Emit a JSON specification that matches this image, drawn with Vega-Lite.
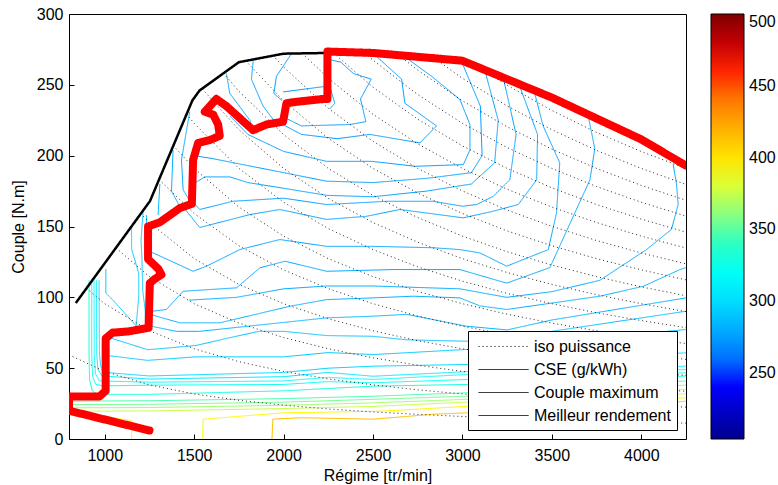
{
"$schema":"https://vega.github.io/schema/vega-lite/v6.json",
"width":617,"height":425,
"autosize":{"type":"none"},
"padding":{"left":69,"top":14,"right":92,"bottom":46},
"background":"white",
"config":{
 "view":{"stroke":"black","strokeWidth":1},
 "font":"Liberation Sans",
 "axis":{"grid":false,"domain":false,"tickColor":"black","tickSize":-5,"labelColor":"black","labelFontSize":16,"titleFontSize":16,"titleFontWeight":"normal","titleColor":"black","labelFont":"Liberation Sans","titleFont":"Liberation Sans"},
 "legend":{"labelFont":"Liberation Sans","labelColor":"black"}
},
"datasets":{
"cse":[
{"id":"k1","v":414,"x":1935,"y":0},{"id":"k1","v":414,"x":1940,"y":14},{"id":"k1","v":414,"x":2100,"y":15},{"id":"k1","v":414,"x":2500,"y":14},{"id":"k1","v":414,"x":2840,"y":17.5},{"id":"k1","v":414,"x":3030,"y":18.5},{"id":"k1","v":414,"x":3500,"y":21},{"id":"k1","v":414,"x":4000,"y":24},{"id":"k1","v":414,"x":4250,"y":26.7},
{"id":"k2","v":391,"x":1548,"y":0},{"id":"k2","v":391,"x":1550,"y":14},{"id":"k2","v":391,"x":2000,"y":18.5},{"id":"k2","v":391,"x":2540,"y":19.6},{"id":"k2","v":391,"x":3020,"y":23},{"id":"k2","v":391,"x":3500,"y":25},{"id":"k2","v":391,"x":4000,"y":27.5},{"id":"k2","v":391,"x":4250,"y":29.1},
{"id":"k3","v":391,"x":1150,"y":0},{"id":"k3","v":391,"x":1150,"y":13},{"id":"k3","v":391,"x":1000,"y":16},{"id":"k3","v":391,"x":800,"y":18},
{"id":"k4","v":376,"x":800,"y":19.6},{"id":"k4","v":376,"x":1250,"y":19.8},{"id":"k4","v":376,"x":2000,"y":21.5},{"id":"k4","v":376,"x":2500,"y":23},{"id":"k4","v":376,"x":3020,"y":26},{"id":"k4","v":376,"x":3500,"y":28.5},{"id":"k4","v":376,"x":4250,"y":32},
{"id":"k5","v":366,"x":800,"y":22},{"id":"k5","v":366,"x":1250,"y":22.2},{"id":"k5","v":366,"x":2000,"y":23.8},{"id":"k5","v":366,"x":2500,"y":25.5},{"id":"k5","v":366,"x":3020,"y":28},{"id":"k5","v":366,"x":3500,"y":31},{"id":"k5","v":366,"x":4250,"y":35},
{"id":"k6","v":356,"x":800,"y":24.3},{"id":"k6","v":356,"x":1250,"y":24.5},{"id":"k6","v":356,"x":2000,"y":26},{"id":"k6","v":356,"x":2500,"y":28},{"id":"k6","v":356,"x":3020,"y":30.2},{"id":"k6","v":356,"x":3500,"y":33.5},{"id":"k6","v":356,"x":4250,"y":38},
{"id":"k7","v":346,"x":800,"y":26.7},{"id":"k7","v":346,"x":1250,"y":27},{"id":"k7","v":346,"x":2000,"y":28.5},{"id":"k7","v":346,"x":2500,"y":30.2},{"id":"k7","v":346,"x":3020,"y":32.6},{"id":"k7","v":346,"x":3500,"y":36.5},{"id":"k7","v":346,"x":4250,"y":41},
{"id":"k8","v":332,"x":912,"y":112},{"id":"k8","v":332,"x":912,"y":60},{"id":"k8","v":332,"x":915,"y":42},{"id":"k8","v":332,"x":930,"y":34},{"id":"k8","v":332,"x":960,"y":31.5},{"id":"k8","v":332,"x":1250,"y":31.5},{"id":"k8","v":332,"x":2000,"y":34},{"id":"k8","v":332,"x":2500,"y":37.3},{"id":"k8","v":332,"x":3020,"y":38.5},{"id":"k8","v":332,"x":3500,"y":41},{"id":"k8","v":332,"x":4250,"y":44.5},
{"id":"k9","v":322,"x":927,"y":112},{"id":"k9","v":322,"x":927,"y":60},{"id":"k9","v":322,"x":932,"y":44},{"id":"k9","v":322,"x":950,"y":38.5},{"id":"k9","v":322,"x":990,"y":37.5},{"id":"k9","v":322,"x":1250,"y":38},{"id":"k9","v":322,"x":2000,"y":38.5},{"id":"k9","v":322,"x":2250,"y":40.5},{"id":"k9","v":322,"x":2500,"y":39.7},{"id":"k9","v":322,"x":3020,"y":42},{"id":"k9","v":322,"x":3500,"y":44},{"id":"k9","v":322,"x":4250,"y":46.7},
{"id":"k10","v":313,"x":940,"y":112},{"id":"k10","v":313,"x":941,"y":60},{"id":"k10","v":313,"x":948,"y":46},{"id":"k10","v":313,"x":970,"y":41},{"id":"k10","v":313,"x":1250,"y":40.1},{"id":"k10","v":313,"x":2000,"y":41},{"id":"k10","v":313,"x":2250,"y":43.5},{"id":"k10","v":313,"x":2500,"y":42},{"id":"k10","v":313,"x":3020,"y":45.5},{"id":"k10","v":313,"x":3500,"y":47},{"id":"k10","v":313,"x":4250,"y":49},
{"id":"k11","v":305,"x":953,"y":112},{"id":"k11","v":305,"x":955,"y":60},{"id":"k11","v":305,"x":962,"y":49},{"id":"k11","v":305,"x":985,"y":44.5},{"id":"k11","v":305,"x":1250,"y":42.3},{"id":"k11","v":305,"x":2000,"y":44},{"id":"k11","v":305,"x":2250,"y":47},{"id":"k11","v":305,"x":2500,"y":44.3},{"id":"k11","v":305,"x":3020,"y":47.5},{"id":"k11","v":305,"x":3500,"y":49.5},{"id":"k11","v":305,"x":4250,"y":51.4},
{"id":"k11b","v":298,"x":968,"y":112},{"id":"k11b","v":298,"x":970,"y":60},{"id":"k11b","v":298,"x":978,"y":51},{"id":"k11b","v":298,"x":1000,"y":47},{"id":"k11b","v":298,"x":1250,"y":44.5},{"id":"k11b","v":298,"x":2000,"y":47},{"id":"k11b","v":298,"x":2250,"y":50},{"id":"k11b","v":298,"x":2500,"y":51.4},{"id":"k11b","v":298,"x":3020,"y":52.6},{"id":"k11b","v":298,"x":3500,"y":56},{"id":"k11b","v":298,"x":4250,"y":60.8},
{"id":"k12","v":292,"x":1010,"y":59},{"id":"k12","v":292,"x":1240,"y":55.5},{"id":"k12","v":292,"x":1510,"y":58},{"id":"k12","v":292,"x":2000,"y":58},{"id":"k12","v":292,"x":2250,"y":61},{"id":"k12","v":292,"x":2500,"y":59.6},{"id":"k12","v":292,"x":3020,"y":63.2},{"id":"k12","v":292,"x":3500,"y":68},{"id":"k12","v":292,"x":4250,"y":77.3},
{"id":"k13","v":288,"x":1015,"y":72},{"id":"k13","v":288,"x":1240,"y":63},{"id":"k13","v":288,"x":1510,"y":66},{"id":"k13","v":288,"x":1716,"y":72},{"id":"k13","v":288,"x":1863,"y":76},{"id":"k13","v":288,"x":2000,"y":76},{"id":"k13","v":288,"x":2240,"y":73},{"id":"k13","v":288,"x":2500,"y":72.5},{"id":"k13","v":288,"x":2688,"y":70},{"id":"k13","v":288,"x":3020,"y":69},{"id":"k13","v":288,"x":3500,"y":76},{"id":"k13","v":288,"x":4250,"y":90.2},
{"id":"g","v":284,"x":1245,"y":80},{"id":"g","v":284,"x":1400,"y":76},{"id":"g","v":284,"x":1531,"y":76},{"id":"g","v":284,"x":2240,"y":85.5},{"id":"g","v":284,"x":2500,"y":86.7},{"id":"g","v":284,"x":2688,"y":88},{"id":"g","v":284,"x":3023,"y":79.6},{"id":"g","v":284,"x":3250,"y":77},{"id":"g","v":284,"x":3500,"y":84},{"id":"g","v":284,"x":4250,"y":99.6},
{"id":"f","v":282,"x":1252,"y":88},{"id":"f","v":282,"x":1420,"y":82},{"id":"f","v":282,"x":1643,"y":82},{"id":"f","v":282,"x":2035,"y":93.7},{"id":"f","v":282,"x":2240,"y":98.4},{"id":"f","v":282,"x":2500,"y":99.6},{"id":"f","v":282,"x":2725,"y":100.8},{"id":"f","v":282,"x":2986,"y":99.6},{"id":"f","v":282,"x":3097,"y":94},{"id":"f","v":282,"x":3247,"y":91.4},{"id":"f","v":282,"x":3768,"y":100.8},{"id":"f","v":282,"x":4011,"y":107.8},{"id":"f","v":282,"x":4216,"y":119.6},{"id":"f","v":282,"x":4250,"y":121},
{"id":"e2","v":280,"x":1470,"y":98},{"id":"e2","v":280,"x":1737,"y":100},{"id":"e2","v":280,"x":2000,"y":106},{"id":"e2","v":280,"x":2240,"y":108},{"id":"e2","v":280,"x":2500,"y":108},{"id":"e2","v":280,"x":2986,"y":106},{"id":"e2","v":280,"x":3247,"y":100},{"id":"e2","v":280,"x":3500,"y":104},{"id":"e2","v":280,"x":3768,"y":112},{"id":"e2","v":280,"x":4029,"y":133.7},{"id":"e2","v":280,"x":4169,"y":148},{"id":"e2","v":280,"x":4206,"y":165.5},{"id":"e2","v":280,"x":4197,"y":180},{"id":"e2","v":280,"x":4178,"y":194},
{"id":"e","v":279,"x":1252,"y":90},{"id":"e","v":279,"x":1345,"y":91.4},{"id":"e","v":279,"x":1438,"y":104.3},{"id":"e","v":279,"x":1737,"y":106.7},{"id":"e","v":279,"x":1867,"y":120.8},{"id":"e","v":279,"x":2007,"y":125.5},{"id":"e","v":279,"x":2240,"y":118.4},{"id":"e","v":279,"x":2612,"y":119.6},{"id":"e","v":279,"x":2986,"y":119.6},{"id":"e","v":279,"x":3247,"y":110},{"id":"e","v":279,"x":3489,"y":121},{"id":"e","v":279,"x":3713,"y":183},{"id":"e","v":279,"x":3740,"y":205},{"id":"e","v":279,"x":3700,"y":230},
{"id":"d","v":278,"x":1250,"y":132},{"id":"d","v":278,"x":1270,"y":131.4},{"id":"d","v":278,"x":1494,"y":118.4},{"id":"d","v":278,"x":1569,"y":122},{"id":"d","v":278,"x":1755,"y":133.7},{"id":"d","v":278,"x":1979,"y":140.8},{"id":"d","v":278,"x":2240,"y":136},{"id":"d","v":278,"x":2500,"y":136},{"id":"d","v":278,"x":2836,"y":135},{"id":"d","v":278,"x":2986,"y":133.7},{"id":"d","v":278,"x":3097,"y":131.4},{"id":"d","v":278,"x":3247,"y":122},{"id":"d","v":278,"x":3480,"y":133.7},{"id":"d","v":278,"x":3526,"y":159.6},{"id":"d","v":278,"x":3544,"y":195},{"id":"d","v":278,"x":3451,"y":221},{"id":"d","v":278,"x":3400,"y":246},
{"id":"b","v":277,"x":1450,"y":162},{"id":"b","v":277,"x":1531,"y":149.3},{"id":"b","v":277,"x":1811,"y":158.4},{"id":"b","v":277,"x":1979,"y":162},{"id":"b","v":277,"x":2240,"y":155},{"id":"b","v":277,"x":2464,"y":157.2},{"id":"b","v":277,"x":2650,"y":162},{"id":"b","v":277,"x":3004,"y":156.1},{"id":"b","v":277,"x":3172,"y":160.8},{"id":"b","v":277,"x":3312,"y":165.5},{"id":"b","v":277,"x":3415,"y":183},{"id":"b","v":277,"x":3420,"y":215},{"id":"b","v":277,"x":3320,"y":249},
{"id":"c","v":276,"x":1496,"y":167},{"id":"c","v":276,"x":1531,"y":162},{"id":"c","v":276,"x":1716,"y":167.8},{"id":"c","v":276,"x":2000,"y":170},{"id":"c","v":276,"x":2240,"y":165.5},{"id":"c","v":276,"x":2576,"y":167.8},{"id":"c","v":276,"x":2834,"y":167.8},{"id":"c","v":276,"x":3002,"y":164.3},{"id":"c","v":276,"x":3079,"y":165.5},{"id":"c","v":276,"x":3172,"y":171.3},{"id":"c","v":276,"x":3265,"y":183},{"id":"c","v":276,"x":3300,"y":215},{"id":"c","v":276,"x":3230,"y":254},
{"id":"k20","v":276,"x":1494,"y":180},{"id":"k20","v":276,"x":1560,"y":185},{"id":"k20","v":276,"x":1700,"y":185},{"id":"k20","v":276,"x":1800,"y":181},{"id":"k20","v":276,"x":2000,"y":177},{"id":"k20","v":276,"x":2240,"y":172},{"id":"k20","v":276,"x":2500,"y":171},{"id":"k20","v":276,"x":2800,"y":175},{"id":"k20","v":276,"x":3050,"y":180},{"id":"k20","v":276,"x":3180,"y":195},{"id":"k20","v":276,"x":3200,"y":225},{"id":"k20","v":276,"x":3130,"y":258},
{"id":"k21","v":275,"x":1500,"y":200},{"id":"k21","v":275,"x":1600,"y":198},{"id":"k21","v":275,"x":1800,"y":193},{"id":"k21","v":275,"x":2000,"y":188},{"id":"k21","v":275,"x":2240,"y":182},{"id":"k21","v":275,"x":2500,"y":181},{"id":"k21","v":275,"x":2800,"y":184},{"id":"k21","v":275,"x":3050,"y":188},{"id":"k21","v":275,"x":3110,"y":200},{"id":"k21","v":275,"x":3100,"y":235},{"id":"k21","v":275,"x":3000,"y":265},
{"id":"k22","v":275,"x":1700,"y":228},{"id":"k22","v":275,"x":1800,"y":215},{"id":"k22","v":275,"x":2000,"y":203},{"id":"k22","v":275,"x":2240,"y":196},{"id":"k22","v":275,"x":2494,"y":196},{"id":"k22","v":275,"x":2736,"y":192.5},{"id":"k22","v":275,"x":3005,"y":193.7},{"id":"k22","v":275,"x":3042,"y":204},{"id":"k22","v":275,"x":3042,"y":222},{"id":"k22","v":275,"x":2986,"y":239.6},{"id":"k22","v":275,"x":2828,"y":256},{"id":"k22","v":275,"x":2697,"y":268},
{"id":"k23","v":274,"x":1995,"y":222},{"id":"k23","v":274,"x":2100,"y":215},{"id":"k23","v":274,"x":2300,"y":212},{"id":"k23","v":274,"x":2482,"y":215},{"id":"k23","v":274,"x":2762,"y":209},{"id":"k23","v":274,"x":2855,"y":221},{"id":"k23","v":274,"x":2678,"y":237},{"id":"k23","v":274,"x":2660,"y":254},{"id":"k23","v":274,"x":2520,"y":270},
{"id":"k24","v":273,"x":2250,"y":268},{"id":"k24","v":273,"x":2320,"y":266},{"id":"k24","v":273,"x":2390,"y":258},{"id":"k24","v":273,"x":2490,"y":254},{"id":"k24","v":273,"x":2430,"y":240},{"id":"k24","v":273,"x":2460,"y":224},{"id":"k24","v":273,"x":2370,"y":222},{"id":"k24","v":273,"x":2100,"y":221},{"id":"k24","v":273,"x":2020,"y":226},
{"id":"L1","v":294,"x":1006,"y":120},{"id":"L1","v":294,"x":1006,"y":103},{"id":"L1","v":294,"x":1046,"y":98},{"id":"L1","v":294,"x":1196,"y":77},
{"id":"L2","v":291,"x":1150,"y":150},{"id":"L2","v":291,"x":1150,"y":134},{"id":"L2","v":291,"x":1190,"y":117},{"id":"L2","v":291,"x":1190,"y":101},{"id":"L2","v":291,"x":1175,"y":79},
{"id":"L3","v":289,"x":1215,"y":162},{"id":"L3","v":289,"x":1203,"y":140},{"id":"L3","v":289,"x":1208,"y":127},{"id":"L3","v":289,"x":1212,"y":105},{"id":"L3","v":289,"x":1226,"y":91},{"id":"L3","v":289,"x":1228,"y":79},
{"id":"L4","v":287,"x":1233,"y":158},{"id":"L4","v":287,"x":1235,"y":141},
{"id":"L5","v":285,"x":1308,"y":180},{"id":"L5","v":285,"x":1298,"y":158},
{"id":"L6","v":283,"x":1382,"y":204},{"id":"L6","v":283,"x":1373,"y":175},{"id":"L6","v":283,"x":1420,"y":164},
{"id":"L7","v":281,"x":1475,"y":231},{"id":"L7","v":281,"x":1429,"y":197},{"id":"L7","v":281,"x":1438,"y":176},{"id":"L7","v":281,"x":1480,"y":167},
{"id":"L8","v":279,"x":1680,"y":258},{"id":"L8","v":279,"x":1699,"y":244},{"id":"L8","v":279,"x":1811,"y":225},{"id":"L8","v":279,"x":1829,"y":219},
{"id":"L9","v":277,"x":1830,"y":267},{"id":"L9","v":277,"x":1820,"y":254},{"id":"L9","v":277,"x":1885,"y":235},{"id":"L9","v":277,"x":1951,"y":224},
{"id":"L10","v":276,"x":2044,"y":272},{"id":"L10","v":276,"x":1960,"y":256},{"id":"L10","v":276,"x":1945,"y":244},{"id":"L10","v":276,"x":1990,"y":239},
{"id":"L11","v":274,"x":1997,"y":245},{"id":"L11","v":274,"x":2240,"y":249},{"id":"L11","v":274,"x":2258,"y":249},{"id":"L11","v":274,"x":2286,"y":237},{"id":"L11","v":274,"x":2258,"y":233}
],
"iso":[
{"p":5,"x":820,"y":58.2},{"p":5,"x":1000,"y":47.7},{"p":5,"x":1250,"y":38.2},{"p":5,"x":1500,"y":31.8},{"p":5,"x":1750,"y":27.3},{"p":5,"x":2000,"y":23.9},{"p":5,"x":2250,"y":21.2},{"p":5,"x":2500,"y":19.1},{"p":5,"x":2750,"y":17.4},{"p":5,"x":3000,"y":15.9},{"p":5,"x":3250,"y":14.7},{"p":5,"x":3500,"y":13.6},{"p":5,"x":3750,"y":12.7},{"p":5,"x":4000,"y":11.9},{"p":5,"x":4250,"y":11.2},
{"p":10,"x":898,"y":106.4},{"p":10,"x":1000,"y":95.5},{"p":10,"x":1250,"y":76.4},{"p":10,"x":1500,"y":63.7},{"p":10,"x":1750,"y":54.6},{"p":10,"x":2000,"y":47.7},{"p":10,"x":2250,"y":42.4},{"p":10,"x":2500,"y":38.2},{"p":10,"x":2750,"y":34.7},{"p":10,"x":3000,"y":31.8},{"p":10,"x":3250,"y":29.4},{"p":10,"x":3500,"y":27.3},{"p":10,"x":3750,"y":25.5},{"p":10,"x":4000,"y":23.9},{"p":10,"x":4250,"y":22.5},
{"p":15,"x":1062,"y":134.9},{"p":15,"x":1250,"y":114.6},{"p":15,"x":1500,"y":95.5},{"p":15,"x":1750,"y":81.8},{"p":15,"x":2000,"y":71.6},{"p":15,"x":2250,"y":63.7},{"p":15,"x":2500,"y":57.3},{"p":15,"x":2750,"y":52.1},{"p":15,"x":3000,"y":47.7},{"p":15,"x":3250,"y":44.1},{"p":15,"x":3500,"y":40.9},{"p":15,"x":3750,"y":38.2},{"p":15,"x":4000,"y":35.8},{"p":15,"x":4250,"y":33.7},
{"p":20,"x":1200,"y":159.2},{"p":20,"x":1250,"y":152.8},{"p":20,"x":1500,"y":127.3},{"p":20,"x":1750,"y":109.1},{"p":20,"x":2000,"y":95.5},{"p":20,"x":2250,"y":84.9},{"p":20,"x":2500,"y":76.4},{"p":20,"x":2750,"y":69.4},{"p":20,"x":3000,"y":63.7},{"p":20,"x":3250,"y":58.8},{"p":20,"x":3500,"y":54.6},{"p":20,"x":3750,"y":50.9},{"p":20,"x":4000,"y":47.7},{"p":20,"x":4250,"y":44.9},
{"p":25,"x":1303,"y":183.2},{"p":25,"x":1500,"y":159.2},{"p":25,"x":1750,"y":136.4},{"p":25,"x":2000,"y":119.4},{"p":25,"x":2250,"y":106.1},{"p":25,"x":2500,"y":95.5},{"p":25,"x":2750,"y":86.8},{"p":25,"x":3000,"y":79.6},{"p":25,"x":3250,"y":73.5},{"p":25,"x":3500,"y":68.2},{"p":25,"x":3750,"y":63.7},{"p":25,"x":4000,"y":59.7},{"p":25,"x":4250,"y":56.2},
{"p":30,"x":1383,"y":207.1},{"p":30,"x":1500,"y":191},{"p":30,"x":1750,"y":163.7},{"p":30,"x":2000,"y":143.2},{"p":30,"x":2250,"y":127.3},{"p":30,"x":2500,"y":114.6},{"p":30,"x":2750,"y":104.2},{"p":30,"x":3000,"y":95.5},{"p":30,"x":3250,"y":88.1},{"p":30,"x":3500,"y":81.8},{"p":30,"x":3750,"y":76.4},{"p":30,"x":4000,"y":71.6},{"p":30,"x":4250,"y":67.4},
{"p":35,"x":1457,"y":229.4},{"p":35,"x":1500,"y":222.8},{"p":35,"x":1750,"y":191},{"p":35,"x":2000,"y":167.1},{"p":35,"x":2250,"y":148.5},{"p":35,"x":2500,"y":133.7},{"p":35,"x":2750,"y":121.5},{"p":35,"x":3000,"y":111.4},{"p":35,"x":3250,"y":102.8},{"p":35,"x":3500,"y":95.5},{"p":35,"x":3750,"y":89.1},{"p":35,"x":4000,"y":83.6},{"p":35,"x":4250,"y":78.6},
{"p":40,"x":1545,"y":247.2},{"p":40,"x":1750,"y":218.3},{"p":40,"x":2000,"y":191},{"p":40,"x":2250,"y":169.8},{"p":40,"x":2500,"y":152.8},{"p":40,"x":2750,"y":138.9},{"p":40,"x":3000,"y":127.3},{"p":40,"x":3250,"y":117.5},{"p":40,"x":3500,"y":109.1},{"p":40,"x":3750,"y":101.9},{"p":40,"x":4000,"y":95.5},{"p":40,"x":4250,"y":89.9},
{"p":45,"x":1665,"y":258.1},{"p":45,"x":1750,"y":245.5},{"p":45,"x":2000,"y":214.9},{"p":45,"x":2250,"y":191},{"p":45,"x":2500,"y":171.9},{"p":45,"x":2750,"y":156.3},{"p":45,"x":3000,"y":143.2},{"p":45,"x":3250,"y":132.2},{"p":45,"x":3500,"y":122.8},{"p":45,"x":3750,"y":114.6},{"p":45,"x":4000,"y":107.4},{"p":45,"x":4250,"y":101.1},
{"p":50,"x":1788,"y":267},{"p":50,"x":2000,"y":238.7},{"p":50,"x":2250,"y":212.2},{"p":50,"x":2500,"y":191},{"p":50,"x":2750,"y":173.6},{"p":50,"x":3000,"y":159.2},{"p":50,"x":3250,"y":146.9},{"p":50,"x":3500,"y":136.4},{"p":50,"x":3750,"y":127.3},{"p":50,"x":4000,"y":119.4},{"p":50,"x":4250,"y":112.3},
{"p":55,"x":1940,"y":270.7},{"p":55,"x":2000,"y":262.6},{"p":55,"x":2250,"y":233.4},{"p":55,"x":2500,"y":210.1},{"p":55,"x":2750,"y":191},{"p":55,"x":3000,"y":175.1},{"p":55,"x":3250,"y":161.6},{"p":55,"x":3500,"y":150.1},{"p":55,"x":3750,"y":140.1},{"p":55,"x":4000,"y":131.3},{"p":55,"x":4250,"y":123.6},
{"p":60,"x":2105,"y":272.2},{"p":60,"x":2250,"y":254.6},{"p":60,"x":2500,"y":229.2},{"p":60,"x":2750,"y":208.3},{"p":60,"x":3000,"y":191},{"p":60,"x":3250,"y":176.3},{"p":60,"x":3500,"y":163.7},{"p":60,"x":3750,"y":152.8},{"p":60,"x":4000,"y":143.2},{"p":60,"x":4250,"y":134.8},
{"p":65,"x":2278,"y":272.5},{"p":65,"x":2500,"y":248.3},{"p":65,"x":2750,"y":225.7},{"p":65,"x":3000,"y":206.9},{"p":65,"x":3250,"y":191},{"p":65,"x":3500,"y":177.3},{"p":65,"x":3750,"y":165.5},{"p":65,"x":4000,"y":155.2},{"p":65,"x":4250,"y":146},
{"p":70,"x":2455,"y":272.3},{"p":70,"x":2500,"y":267.4},{"p":70,"x":2750,"y":243.1},{"p":70,"x":3000,"y":222.8},{"p":70,"x":3250,"y":205.7},{"p":70,"x":3500,"y":191},{"p":70,"x":3750,"y":178.2},{"p":70,"x":4000,"y":167.1},{"p":70,"x":4250,"y":157.3},
{"p":75,"x":2643,"y":271},{"p":75,"x":2750,"y":260.4},{"p":75,"x":3000,"y":238.7},{"p":75,"x":3250,"y":220.4},{"p":75,"x":3500,"y":204.6},{"p":75,"x":3750,"y":191},{"p":75,"x":4000,"y":179},{"p":75,"x":4250,"y":168.5},
{"p":80,"x":2842,"y":268.8},{"p":80,"x":3000,"y":254.6},{"p":80,"x":3250,"y":235.1},{"p":80,"x":3500,"y":218.3},{"p":80,"x":3750,"y":203.7},{"p":80,"x":4000,"y":191},{"p":80,"x":4250,"y":179.7},
{"p":85,"x":3100,"y":261.8},{"p":85,"x":3250,"y":249.7},{"p":85,"x":3500,"y":231.9},{"p":85,"x":3750,"y":216.4},{"p":85,"x":4000,"y":202.9},{"p":85,"x":4250,"y":191}
],
"cmax":[
{"x":838,"y":96},{"x":1253,"y":168},{"x":1490,"y":239},{"x":1530,"y":246},{"x":1750,"y":266},{"x":2000,"y":272},{"x":2245,"y":272.5},{"x":2500,"y":272.5},{"x":3000,"y":267},{"x":3500,"y":241},{"x":4000,"y":211.5},{"x":4250,"y":193}
],
"best":[
{"x":1250,"y":6},{"x":800,"y":20},{"x":800,"y":30},{"x":970,"y":30},{"x":1005,"y":34},{"x":1005,"y":71},{"x":1043,"y":75},{"x":1136,"y":76},{"x":1245,"y":78.5},{"x":1252,"y":110},{"x":1280,"y":113},{"x":1317,"y":116},{"x":1300,"y":120},{"x":1242,"y":127},{"x":1242,"y":150},{"x":1308,"y":153},{"x":1364,"y":158},{"x":1420,"y":163},{"x":1487,"y":166},{"x":1494,"y":197},{"x":1522,"y":209},{"x":1587,"y":211},{"x":1643,"y":214},{"x":1634,"y":222},{"x":1606,"y":229},{"x":1559,"y":231},{"x":1624,"y":240},{"x":1680,"y":235},{"x":1829,"y":218},{"x":1904,"y":222},{"x":1997,"y":224},{"x":2016,"y":237},{"x":2072,"y":238},{"x":2221,"y":240},{"x":2245,"y":240},{"x":2245,"y":273.5},{"x":2500,"y":272.5},{"x":3000,"y":267},{"x":3500,"y":241},{"x":4000,"y":211.5},{"x":4250,"y":193}
]
},
"layer":[
{"data":{"name":"cse"},
 "mark":{"type":"line","strokeWidth":1,"clip":true},
 "encoding":{
  "x":{"field":"x","type":"quantitative","scale":{"domain":[800,4250],"nice":false,"zero":false},"axis":{"title":"Régime [tr/min]","values":[1000,1500,2000,2500,3000,3500,4000],"format":"d","labelPadding":13,"titlePadding":4}},
  "y":{"field":"y","type":"quantitative","scale":{"domain":[0,300],"nice":false},"axis":{"title":"Couple [N.m]","values":[0,50,100,150,200,250,300],"labelPadding":11,"titlePadding":10}},
  "detail":{"field":"id"},
  "order":{"value":null},
  "color":{"field":"v","type":"quantitative","scale":{"domain":[204,241,315,389,463,500],"range":["#00008f","#0000ff","#00ffff","#ffff00","#ff0000","#800000"]},
   "legend":{"orient":"right","offset":25,"title":null,"gradientLength":425,"gradientThickness":33,"gradientStrokeColor":"black","gradientStrokeWidth":1,"labelFontSize":16,"labelOffset":5,"values":[250,300,350,400,450,500],"direction":"vertical","labelOverlap":false}},
  "strokeDash":{"datum":"CSE (g/kWh)","scale":{"domain":["iso puissance","CSE (g/kWh)","Couple maximum","Meilleur rendement"],"range":[[1,3],[1,0],[1,0],[1,0]]},
   "legend":{"orient":"none","legendX":399,"legendY":317,"title":null,"fillColor":"white","strokeColor":"black","padding":6,"symbolSize":324,"rowPadding":5,"labelFontSize":16,"labelOffset":41,"symbolType":"stroke",
    "encode":{"symbols":{"update":{
     "shape":{"condition":[{"test":"datum.label === 'CSE (g/kWh)' || datum.value === 'CSE (g/kWh)'","value":"M4.9,0L4.54,0.45L3.55,0.78L2.2,0.9L0.85,0.78L-0.14,0.45L-0.5,0L-0.14,-0.45L0.85,-0.78L2.2,-0.9L3.55,-0.78L4.54,-0.45ZM3.9,0L3.67,0.28L3.05,0.48L2.2,0.55L1.35,0.48L0.73,0.28L0.5,0L0.73,-0.28L1.35,-0.48L2.2,-0.55L3.05,-0.48L3.67,-0.28ZM3,0L2.6,0.22L1.8,0.22L1.4,0L1.8,-0.22L2.6,-0.22Z"},{"test":"datum.label === 'iso puissance' || datum.value === 'iso puissance'","value":"M0,-0.6L4.4,-0.6M-0.5,0L4.9,0M0,0.6L4.4,0.6"}],"value":"M-0.55,0L5,0"},
     "stroke":{"condition":[{"test":"datum.label === 'Meilleur rendement' || datum.value === 'Meilleur rendement'","value":"#ff0000"},{"test":"datum.label === 'CSE (g/kWh)' || datum.value === 'CSE (g/kWh)'","value":"#1e90ff"}],"value":"black"},
     "strokeWidth":{"condition":[{"test":"datum.label === 'Meilleur rendement' || datum.value === 'Meilleur rendement'","value":8},{"test":"datum.label === 'Couple maximum' || datum.value === 'Couple maximum'","value":3}],"value":1},
     "fill":{"value":"transparent"},
     "opacity":{"value":1}}}}}}
 }},
{"data":{"name":"iso"},
 "mark":{"type":"line","strokeWidth":1,"color":"black","opacity":0.85,"clip":true},
 "encoding":{"x":{"field":"x","type":"quantitative"},"y":{"field":"y","type":"quantitative"},"detail":{"field":"p"},"order":{"value":null},"strokeDash":{"datum":"iso puissance"}}},
{"data":{"name":"cmax"},
 "mark":{"type":"line","strokeWidth":2.5,"color":"black","clip":true},
 "encoding":{"x":{"field":"x","type":"quantitative"},"y":{"field":"y","type":"quantitative"},"order":{"value":null},"strokeDash":{"datum":"Couple maximum"}}},
{"data":{"name":"best"},
 "mark":{"type":"line","strokeWidth":8,"color":"#ff0000","strokeJoin":"round","strokeCap":"round","clip":true},
 "encoding":{"x":{"field":"x","type":"quantitative"},"y":{"field":"y","type":"quantitative"},"order":{"value":null},"strokeDash":{"datum":"Meilleur rendement"}}}
]
}
